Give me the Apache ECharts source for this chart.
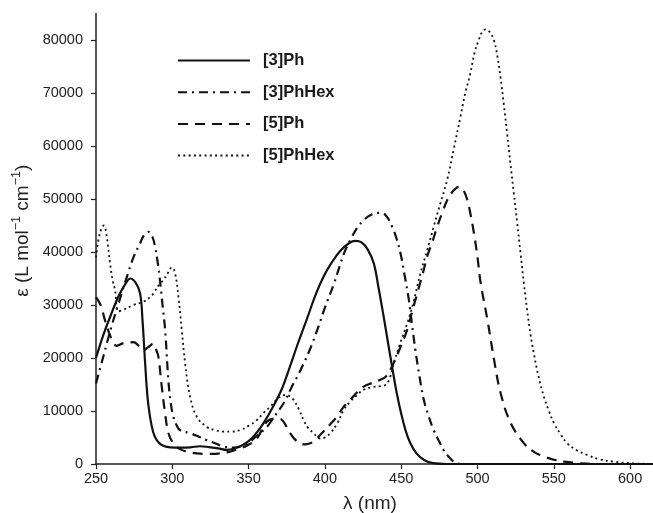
<!DOCTYPE html>
<html><head><meta charset="utf-8">
<script src="https://cdn.jsdelivr.net/npm/echarts@6/dist/echarts.min.js"></script>
<style>html,body{margin:0;padding:0;background:#fff}#c{width:653px;height:513px}</style>
</head><body><div id="c"></div>
<script>
const seriesNames = ['[3]Ph', '[3]PhHex', '[5]Ph', '[5]PhHex'];
const xTicks = [250, 300, 350, 400, 450, 500, 550, 600];

const ph3X = [250,255,260,265,270,272.5,276,278.9,280.5,282.2,283.8,285.4,287.5,289.8,293,298.6,305,312,318,324,330,336,344,350,355,360,366,372,377,382,388,394,399,404,410,416,420,424,428,432,435,438.5,441,444,447,450,453,456,460,465,471,480,615];
const ph3Y = [20000,24500,28300,31800,34300,35000,34200,32200,27000,19000,12500,8900,6000,4500,3600,3150,3100,3150,3350,3200,2950,2650,3270,4300,5800,7800,10800,14300,18300,22500,27200,32000,35300,37800,40200,41700,42100,41800,40500,37900,33500,27800,23500,18400,13500,9500,6200,3900,2000,750,150,0,0];

const ph3hexX = [250,255,260,265,271,275,279,281.5,284.3,287,288.7,290.3,291.9,293.6,295.3,297.4,299,300.7,303,305,311.7,317,322.6,328,333.5,340,348.9,355,362,367,373,378,384,390,395,400,406,412.6,416.7,421,425.4,430,436.4,440,444,447,449.5,452,455,457,459.3,462,464.8,468,471.3,475,477.9,481,484.5,489,615];
const ph3hexY = [15200,20500,25800,30500,36000,39300,41700,43200,43800,42800,41000,38300,34700,30000,25300,15900,11500,8900,7200,6400,5800,5200,4500,3900,3300,3100,3900,5200,7000,9000,11500,14400,17700,21500,25300,29500,34100,39800,42300,44500,46000,47000,47400,46900,44800,42500,39800,36000,31000,26500,21500,16500,12100,9000,6400,4200,2600,1400,450,0,0];

const ph5X = [250,253,256,258.5,260.3,263.6,267.9,271,274.5,278,281,284,287.6,289.5,290.9,293.1,295.3,297.5,300.7,305.1,310,316.1,322,327,331,335.8,342,349,355.4,362,368.6,371.9,374.5,377.3,380.5,383.9,387,390.4,393.5,397,403.5,408,412.3,416.7,421,425.4,431,436.4,440,444,449,453.9,457,460.5,464,467,470.5,473.6,477,480.2,484,487.9,490.5,493.3,495.5,497.7,500,502.1,506.5,510.9,515.2,521.8,530.5,537,543.7,550,556.8,565,578.7,615];
const ph5Y = [31500,30000,27000,24800,23600,22300,22800,22900,23000,22300,21500,22000,22700,21500,20200,14600,9500,5800,3900,2800,2300,2000,1900,1900,2000,2200,2700,3500,4800,8000,8600,8300,7200,5800,4600,3900,3700,3900,4500,5500,7500,9000,10800,12100,13500,14600,15300,15900,16500,18400,21700,25300,28600,32200,35800,39100,42000,44800,47500,49800,51500,52300,51800,49800,47000,43500,39000,34100,27200,19600,13300,7700,3900,2300,1400,800,440,200,0,0];

const ph5hexX = [250,252.5,255.2,257,259.2,261,262.5,264.6,267.9,274.5,281,285.4,287.6,292,294.2,297,299.7,301.8,304,306.2,308.4,311.7,316.1,322.6,328,333.5,339,344.5,350,355.4,360,364.2,367.5,370.7,373,375.1,377.3,379.5,383,386,389,392.6,395,397,400,403.5,408,412.3,416.7,421,425.4,431,436.4,440,442.5,445.1,449,453.9,458,462.6,467,471.3,475.5,480.1,484.5,488.8,492,495.3,498,500.8,503,505.2,508,510.7,513,515,517.2,519.4,521.6,523.8,526,528.2,530.4,532.5,534.7,536.9,540,543.5,546.8,550.1,554.5,558.8,565,571.9,580,589.4,600,615];
const ph5hexY = [39000,43500,45000,43000,37900,34500,32800,28800,29100,30000,30600,31500,32200,34100,34700,36000,37100,36000,31600,25300,19000,12700,8900,7000,6400,6100,6100,6400,7200,8300,9700,10800,11900,12700,13000,13000,12700,12100,10300,8300,6800,5800,5100,4800,5000,5800,7600,10200,11800,13000,14000,14500,14700,15000,16200,19000,22500,26500,30500,36000,40300,44800,49000,53600,59500,65500,70000,73700,77500,80000,81500,82000,81500,80000,77000,73100,68000,62400,56600,51100,45500,39800,34000,29100,24500,20900,16500,12700,10000,7700,5600,3900,2600,1700,900,440,150,0];

function zip(xs, ys) { return xs.map((x, i) => [x, ys[i]]); }

const styles = [
  { type: 'solid', width: 2.2 },
  { type: [9, 5, 2, 5], width: 2.2 },
  { type: [10, 7], width: 2.2 },
  { type: [2, 3.3], width: 1.8 }
];
const dataSets = [zip(ph3X, ph3Y), zip(ph3hexX, ph3hexY), zip(ph5X, ph5Y), zip(ph5hexX, ph5hexY)];
const FONT = 'Liberation Sans, Arial, sans-serif';

const chart = echarts.init(document.getElementById('c'), null, { renderer: 'canvas' });
chart.setOption({
  animation: false,
  backgroundColor: '#fff',
  grid: { left: 96, right: 0, top: 13.5, bottom: 49, containLabel: false, outerBoundsMode: 'none' },
  legend: {
    orient: 'vertical', left: 177, top: 52, padding: 0,
    itemWidth: 72, itemHeight: 14, itemGap: 14.7,
    data: seriesNames,
    itemStyle: { opacity: 0, borderWidth: 0 },
    textStyle: { fontFamily: FONT, fontWeight: 'bold', fontSize: 16.5, color: '#1a1a1a', padding: [0, 0, 0, 8] }
  },
  xAxis: {
    type: 'value', min: 250, max: 615, interval: 50,
    name: 'λ (nm)', nameLocation: 'middle', nameGap: 30,
    nameTextStyle: { fontFamily: FONT, fontSize: 19, color: '#222', padding: [0, 9, 0, 0] },
    axisLine: { show: true, onZero: false, lineStyle: { color: '#222', width: 1.5 } },
    axisTick: { show: true, inside: false, length: 5, lineStyle: { color: '#222', width: 1.2 } },
    axisLabel: { fontFamily: FONT, fontSize: 14.5, color: '#222', margin: 7, showMaxLabel: false,
      formatter: v => (xTicks.indexOf(v) >= 0 ? String(v) : '') },
    splitLine: { show: false }
  },
  yAxis: {
    type: 'value', min: 0, max: 85000, interval: 10000,
    name: '{b|ε (L mol}{s|\u22121}{b| cm}{s|\u22121}{b|)}', nameLocation: 'middle', nameGap: 63,
    nameTextStyle: {
      fontFamily: FONT, fontSize: 19, color: '#222', padding: [0, 0, 0, 16],
      rich: {
        b: { fontFamily: FONT, fontSize: 19, color: '#222', lineHeight: 22, verticalAlign: 'bottom' },
        s: { fontFamily: FONT, fontSize: 12.5, color: '#222', lineHeight: 22, verticalAlign: 'top' }
      }
    },
    axisLine: { show: true, lineStyle: { color: '#222', width: 1.5 } },
    axisTick: { show: true, inside: false, length: 5, lineStyle: { color: '#222', width: 1.2 } },
    axisLabel: { fontFamily: FONT, fontSize: 14.5, color: '#222', margin: 13, showMaxLabel: false,
      formatter: v => String(v) },
    splitLine: { show: false }
  },
  series: seriesNames.map((n, i) => ({
    name: n, type: 'line', data: dataSets[i],
    showSymbol: false, symbol: 'none', smooth: 0.4,
    lineStyle: { color: '#111', type: styles[i].type, width: styles[i].width },
    itemStyle: { color: '#111' },
    z: 4 - i
  }))
});
</script></body></html>
